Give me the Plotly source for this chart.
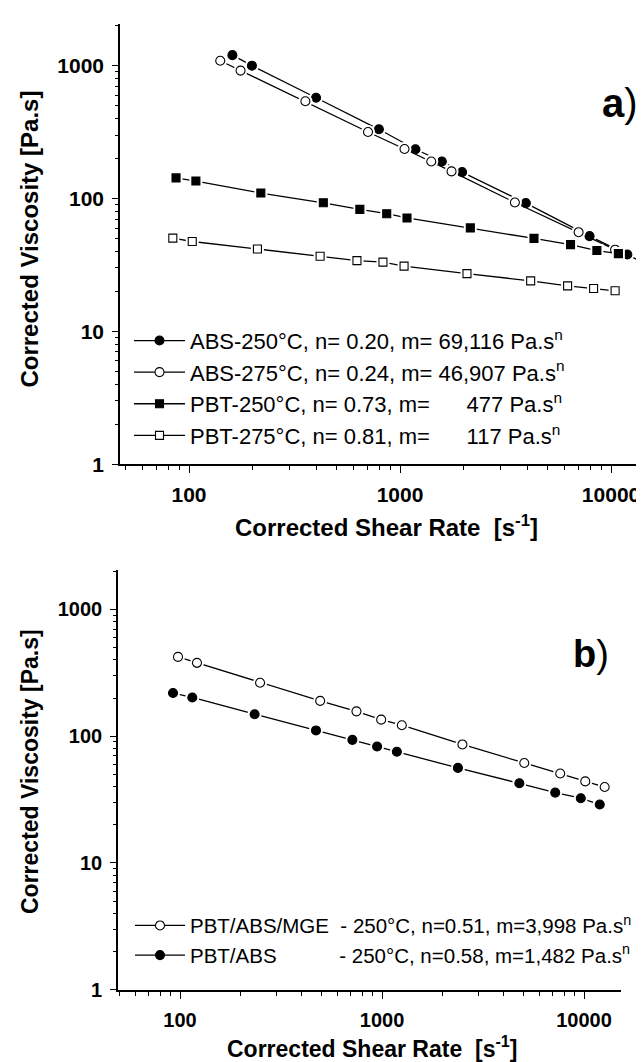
import math
import plotly.graph_objects as go

# ---------------- data ----------------
# Panel a
abs250_rate = [160.6, 198.7, 400, 794, 1183, 1578, 1968, 3945, 7907, 11940]
abs250_visc = [1200, 1000, 574, 332, 235, 190, 158, 92.3, 52.1, 37.9]
abs275_rate = [140.6, 175.5, 356, 705, 1050, 1406, 1754, 3501, 7016, 10450]
abs275_visc = [1089, 918, 540, 317, 236, 190, 160, 93.3, 55.8, 41.2]
pbt250_rate = [86.8, 107.8, 219, 433, 645, 865, 1079, 2153, 4313, 6425, 8567, 10830]
pbt250_visc = [143, 135.4, 110, 92.9, 82.8, 76.9, 71.4, 60.1, 50.1, 45.0, 40.6, 38.5]
pbt275_rate = [83.8, 103.6, 211, 418, 625, 830, 1045, 2076, 4159, 6223, 8265, 10450]
pbt275_visc = [50.3, 47.5, 41.7, 36.8, 34.1, 33.2, 31.0, 27.2, 24.0, 22.0, 21.0, 20.2]

# Power-law parameters printed in legend a (n, m)
abs250_n, abs250_m = 0.20, 69116

# Panel b
mge_rate = [97.7, 121.3, 249, 494, 747, 990, 1253, 2500, 5060, 7621, 10140, 12650]
mge_visc = [422, 379, 264, 190, 157, 135, 122, 86.1, 61.5, 50.8, 44.0, 39.7]
blend_rate = [92.3, 115, 234, 471, 713, 945, 1184, 2375, 4783, 7199, 9637, 11960]
blend_visc = [219, 202, 149, 111, 93.6, 83.0, 75.4, 56.2, 42.5, 35.9, 32.4, 28.9]

NB = "\u00a0"
names_a = [
    "ABS-250°C, n= 0.20, m= 69,116 Pa.s<sup>n</sup>",
    "ABS-275°C, n= 0.24, m= 46,907 Pa.s<sup>n</sup>",
    "PBT-250°C, n= 0.73, m=" + NB * 6 + "477 Pa.s<sup>n</sup>",
    "PBT-275°C, n= 0.81, m=" + NB * 6 + "117 Pa.s<sup>n</sup>",
]
names_b = [
    "PBT/ABS/MGE" + NB * 2 + "- 250°C, n=0.51, m=3,998 Pa.s<sup>n</sup>",
    "PBT/ABS" + NB * 11 + "- 250°C, n=0.58, m=1,482 Pa.s<sup>n</sup>",
]
x_ticks = [100, 1000, 10000]
x_tick_text = ["100", "1000", "10000"]
y_ticks = [1, 10, 100, 1000]
y_tick_text = ["1", "10", "100", "1000"]

# ---------------- layout helpers ----------------
W, H = 644, 1062
def px(x):
    return x / W
def py(y):
    return 1 - y / H

FONT = "Liberation Sans, Arial, sans-serif"
xa_range = [math.log10(47.1), math.log10(15630)]
xb_range = [math.log10(49.3), math.log10(15240)]
ya_range = [0, 3.315]
yb_range = [0, 3.31]

minor_x = [k * 10 ** p for p in range(1, 5) for k in range(2, 10)]
minor_y = [k * 10 ** p for p in range(0, 4) for k in range(2, 10)]

fig = go.Figure()

def add_series(xs, ys, name, symbol, filled, size, xaxis, yaxis, legend):
    mcol = "black" if filled else "white"
    fig.add_trace(go.Scatter(
        x=xs, y=ys, mode="lines+markers", name=name, legend=legend,
        xaxis=xaxis, yaxis=yaxis,
        line=dict(color="black", width=1.3),
        marker=dict(symbol=symbol, size=size, color=mcol,
                    line=dict(color="black", width=1.1)),
    ))
    # white halo gives the small gap between line and symbol
    fig.add_trace(go.Scatter(
        x=xs, y=ys, mode="markers", showlegend=False, hoverinfo="skip",
        xaxis=xaxis, yaxis=yaxis,
        marker=dict(symbol=symbol, size=size + 5, color="white",
                    line=dict(width=0)),
    ))
    fig.add_trace(go.Scatter(
        x=xs, y=ys, mode="markers", showlegend=False,
        xaxis=xaxis, yaxis=yaxis,
        marker=dict(symbol=symbol, size=size, color=mcol,
                    line=dict(color="black", width=1.1)),
    ))

# fitted power-law continuation of ABS-250 up to the axis end
ext_x = [abs250_rate[-1], 10 ** xa_range[1]]
ext_y = [abs250_m * v ** (abs250_n - 1) for v in ext_x]
fig.add_trace(go.Scatter(x=ext_x, y=ext_y, mode="lines", showlegend=False,
                         xaxis="x", yaxis="y", hoverinfo="skip",
                         line=dict(color="black", width=1.3)))

add_series(abs250_rate, abs250_visc, names_a[0], "circle", True, 9, "x", "y", "legend")
add_series(abs275_rate, abs275_visc, names_a[1], "circle", False, 9, "x", "y", "legend")
add_series(pbt250_rate, pbt250_visc, names_a[2], "square", True, 8, "x", "y", "legend")
add_series(pbt275_rate, pbt275_visc, names_a[3], "square", False, 8, "x", "y", "legend")

add_series(mge_rate, mge_visc, names_b[0], "circle", False, 9, "x2", "y2", "legend2")
add_series(blend_rate, blend_visc, names_b[1], "circle", True, 9, "x2", "y2", "legend2")

def tickfont(size):
    return dict(family=FONT, size=size, color="black", weight="bold")

def xaxis_cfg(domain, rng, anchor, fs):
    return dict(type="log", domain=domain, range=rng, anchor=anchor,
                showline=True, linecolor="black", linewidth=1.6,
                showgrid=False, zeroline=False,
                ticks="outside", ticklen=7, tickwidth=1.4, tickcolor="black",
                tickvals=x_ticks, ticktext=x_tick_text, tickfont=tickfont(fs),
                ticklabelstandoff=4,
                minor=dict(ticks="outside", ticklen=4, tickwidth=1.2,
                           tickcolor="black", tickvals=minor_x, showgrid=False))

def yaxis_cfg(domain, rng, anchor, fs):
    return dict(type="log", domain=domain, range=rng, anchor=anchor,
                showline=True, linecolor="black", linewidth=1.6,
                showgrid=False, zeroline=False,
                ticks="outside", ticklen=6, tickwidth=1.4, tickcolor="black",
                tickvals=y_ticks, ticktext=y_tick_text, tickfont=tickfont(fs),
                ticklabelstandoff=4,
                minor=dict(ticks="outside", ticklen=3, tickwidth=1.1,
                           tickcolor="black", tickvals=minor_y, showgrid=False))

fig.update_layout(
    width=W, height=H,
    margin=dict(l=0, r=0, t=0, b=0),
    paper_bgcolor="white", plot_bgcolor="white",
    xaxis=xaxis_cfg([px(112), 1.0], xa_range, "y", 21),
    yaxis=yaxis_cfg([py(461), py(16)], ya_range, "x", 21),
    xaxis2=xaxis_cfg([px(110), px(613)], xb_range, "y2", 20),
    yaxis2=yaxis_cfg([py(992), py(568)], yb_range, "x2", 20),
    showlegend=True,
    legend=dict(x=px(121), y=py(315), xanchor="left", yanchor="top",
                font=dict(family=FONT, size=22, color="black"),
                itemwidth=51, bgcolor="rgba(0,0,0,0)",
                tracegroupgap=0, traceorder="normal", borderwidth=0),
    legend2=dict(x=px(122), y=py(907), xanchor="left", yanchor="top",
                 font=dict(family=FONT, size=20.5, color="black"),
                 itemwidth=50, bgcolor="rgba(0,0,0,0)",
                 tracegroupgap=0, traceorder="normal", borderwidth=0),
)

ann = [
    dict(text="<b>Corrected Viscosity [Pa.s]</b>", x=px(22), y=py(234), textangle=-90, size=24),
    dict(text="<b>Corrected Shear Rate" + NB * 2 + "[s<sup>-1</sup>]</b>", x=px(378), y=py(523), size=24),
    dict(text="<b>Corrected Viscosity [Pa.s]</b>", x=px(22), y=py(772), textangle=-90, size=23),
    dict(text="<b>Corrected Shear Rate" + NB * 2 + "[s<sup>-1</sup>]</b>", x=px(364), y=py(1050), size=23),
]
for a in ann:
    size = a.pop("size")
    fig.add_annotation(xref="paper", yref="paper", xanchor="center", yanchor="middle",
                       showarrow=False, font=dict(family=FONT, size=size, color="black"), **a)

fig.add_annotation(text="<b>a</b>)", x=px(612), y=py(96), xref="paper", yref="paper",
                   showarrow=False, font=dict(family=FONT, size=40, color="black"),
                   xanchor="center", yanchor="middle")
fig.add_annotation(text="<b>b</b>)", x=px(583), y=py(653), xref="paper", yref="paper",
                   showarrow=False, font=dict(family=FONT, size=38, color="black"),
                   xanchor="center", yanchor="middle")

fig.write_html("out.html")
